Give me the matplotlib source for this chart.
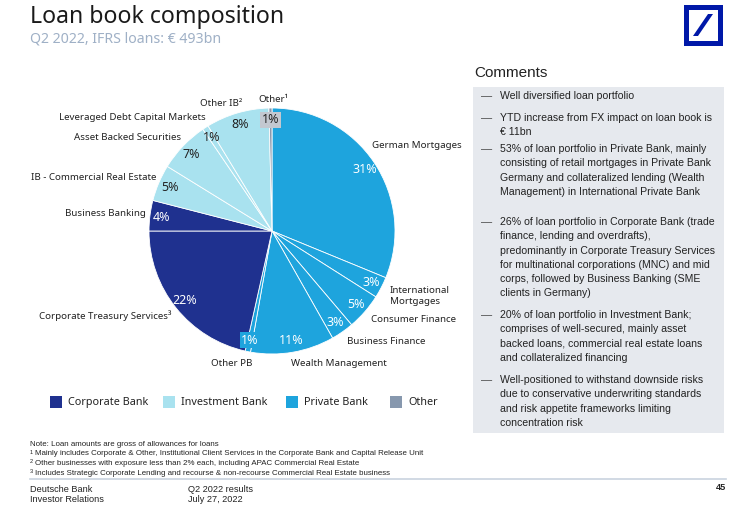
import numpy as np
import matplotlib
matplotlib.use("Agg")
import matplotlib.pyplot as plt
from matplotlib.patches import Rectangle, Polygon

plt.rcParams['font.family'] = ['Liberation Sans', 'DejaVu Sans']

# data (share of loan book, %; clockwise from 12 o'clock)
segments = ["German Mortgages", "International Mortgages", "Consumer Finance",
            "Business Finance", "Wealth Management", "Other PB",
            "Corporate Treasury Services", "Business Banking",
            "IB - Commercial Real Estate", "Asset Backed Securities",
            "Leveraged Debt Capital Markets", "Other IB", "Other"]
shares = [31.2, 2.8, 4.8, 3.0, 11.0, 0.7, 21.5, 4.0, 4.8, 6.7, 0.8, 8.3, 0.4]
pct_labels = ["31%", "3%", "5%", "3%", "11%", "1%", "22%", "4%",
              "5%", "7%", "1%", "8%", "1%"]
division = ["PB", "PB", "PB", "PB", "PB", "PB", "CB", "CB",
            "IB", "IB", "IB", "IB", "OT"]

legend_names = ["Corporate Bank", "Investment Bank", "Private Bank", "Other"]
legend_keys = ["CB", "IB", "PB", "OT"]

colors = {"CB": "#1f318f", "IB": "#a9e2ef", "PB": "#1ea4dd", "OT": "#8798ae"}
text_col = {"CB": "white", "IB": "#222222", "PB": "white", "OT": "#222222"}

comments = [
    ["Well diversified loan portfolio"],
    ["YTD increase from FX impact on loan book is", "\u20ac 11bn"],
    ["53% of loan portfolio in Private Bank, mainly",
     "consisting of retail mortgages in Private Bank",
     "Germany and collateralized lending (Wealth",
     "Management) in International Private Bank"],
    ["26% of loan portfolio in Corporate Bank (trade",
     "finance, lending and overdrafts),",
     "predominantly in Corporate Treasury Services",
     "for multinational corporations (MNC) and mid",
     "corps, followed by Business Banking (SME",
     "clients in Germany)"],
    ["20% of loan portfolio in Investment Bank;",
     "comprises of well-secured, mainly asset",
     "backed loans, commercial real estate loans",
     "and collateralized financing"],
    ["Well-positioned to withstand downside risks",
     "due to conservative underwriting standards",
     "and risk appetite frameworks limiting",
     "concentration risk"],
]

footnotes = [
    ("", "Note: Loan amounts are gross of allowances for loans"),
    ("1", "Mainly includes Corporate & Other, Institutional Client Services in the Corporate Bank and Capital Release Unit"),
    ("2", "Other businesses with exposure less than 2% each, including APAC Commercial Real Estate"),
    ("3", "Includes Strategic Corporate Lending and recourse & non-recourse Commercial Real Estate business"),
]

# outer label text and anchor (page pixels)
outer_labels = [
    ("German Mortgages", 372, 146, "left"),
    ("International\nMortgages", 390, 296, "left"),
    ("Consumer Finance", 371, 319, "left"),
    ("Business Finance", 347, 341, "left"),
    ("Wealth Management", 291, 363, "left"),
    ("Other PB", 211, 363, "left"),
    ("Corporate Treasury Services\u00b3", 39, 316, "left"),
    ("Business Banking", 146, 213, "right"),
    ("IB - Commercial Real Estate", 156, 178, "right"),
    ("Asset Backed Securities", 181, 138, "right"),
    ("Leveraged Debt Capital Markets", 206, 118, "right"),
    ("Other IB\u00b2", 242, 104, "right"),
    ("Other\u00b9", 273, 99, "center"),
]

W, H = 743, 511
fig = plt.figure(figsize=(W / 100, H / 100), dpi=100)
page = fig.add_axes([0, 0, 1, 1])
page.set_xlim(0, W)
page.set_ylim(H, 0)
page.axis('off')

# title
page.text(30, 17, "Loan book composition", fontsize=16.6, color="#1a1a1a",
          family="Noto Sans", va="center", ha="left")
page.text(30, 39, "Q2 2022, IFRS loans: \u20ac 493bn", fontsize=10.2, color="#9fb0c6",
          family="Noto Sans", va="center", ha="left")

# logo
page.add_patch(Rectangle((686, 7), 34, 36, fill=False, edgecolor="#0018a8", linewidth=3.6))
page.add_patch(Polygon([(693, 36), (698, 36), (713, 14), (708, 14)], closed=True,
                       facecolor="#0018a8", edgecolor="none"))

# pie
cx, cy, r = 272, 231, 123
pie_ax = fig.add_axes([(cx - r) / W, (H - cy - r) / H, 2 * r / W, 2 * r / H])
wedges, _ = pie_ax.pie(shares, colors=[colors[d] for d in division], startangle=90,
                       counterclock=False,
                       wedgeprops=dict(edgecolor="white", linewidth=0.6))
pie_ax.set_xlim(-1, 1)
pie_ax.set_ylim(-1, 1)
pie_ax.set_aspect('equal')
pie_ax.axis('off')

for w, lab, d in zip(wedges, pct_labels, division):
    ang = np.deg2rad((w.theta1 + w.theta2) / 2)
    x, y = 0.905 * np.cos(ang), 0.905 * np.sin(ang)
    bbox = None
    if lab == "1%" and d in ("PB", "OT"):
        bbox = dict(boxstyle="square,pad=0.12",
                    facecolor=colors["PB"] if d == "PB" else "#c3c8d0",
                    edgecolor="none")
    pie_ax.text(x, y, lab, ha="center", va="center", fontsize=9,
                color=text_col[d], family="Noto Sans", bbox=bbox)

for txt, x, y, ha in outer_labels:
    page.text(x, y, txt, ha=ha, va="center", fontsize=7.0, color="#222222",
              family="Noto Sans", linespacing=1.15)

# legend
lx = [50, 163, 286, 390]
for x, name, key in zip(lx, legend_names, legend_keys):
    page.add_patch(Rectangle((x, 396), 12, 12, facecolor=colors[key], edgecolor="none"))
    page.text(x + 18, 402.5, name, ha="left", va="center", fontsize=7.8,
              color="#222222", family="Noto Sans")

# comments
page.text(474, 73, "Comments", fontsize=11, color="#222222", va="center", ha="left")
page.add_patch(Rectangle((473, 87), 251, 346, facecolor="#e6e9ee", edgecolor="none"))
starts = [96, 118, 149, 222, 315, 380]
for item, y0 in zip(comments, starts):
    page.text(481, y0, "\u2014", fontsize=8, color="#444444", va="center", ha="left")
    for i, line in enumerate(item):
        page.text(500, y0 + i * 14.3, line, fontsize=7.6, color="#222222",
                  va="center", ha="left")

# footnotes
for i, (mark, txt) in enumerate(footnotes):
    y = 444 + i * 9.7
    if mark:
        page.text(30, y - 1.5, mark, fontsize=4, color="#222222", va="center", ha="left")
        page.text(35, y, txt, fontsize=5.7, color="#222222", va="center", ha="left")
    else:
        page.text(30, y, txt, fontsize=5.7, color="#222222", va="center", ha="left")

page.plot([30, 726], [479, 479], color="#c9d3df", linewidth=1.2)
page.text(30, 489, "Deutsche Bank", fontsize=6.6, color="#222222", va="center")
page.text(30, 500, "Investor Relations", fontsize=6.6, color="#222222", va="center")
page.text(188, 489, "Q2 2022 results", fontsize=6.6, color="#222222", va="center")
page.text(188, 500, "July 27, 2022", fontsize=6.6, color="#222222", va="center")
page.text(726, 488, "45", fontsize=6.6, color="#222222", va="center", ha="right",
          fontweight="bold")

fig.savefig("out.png", dpi=100)
